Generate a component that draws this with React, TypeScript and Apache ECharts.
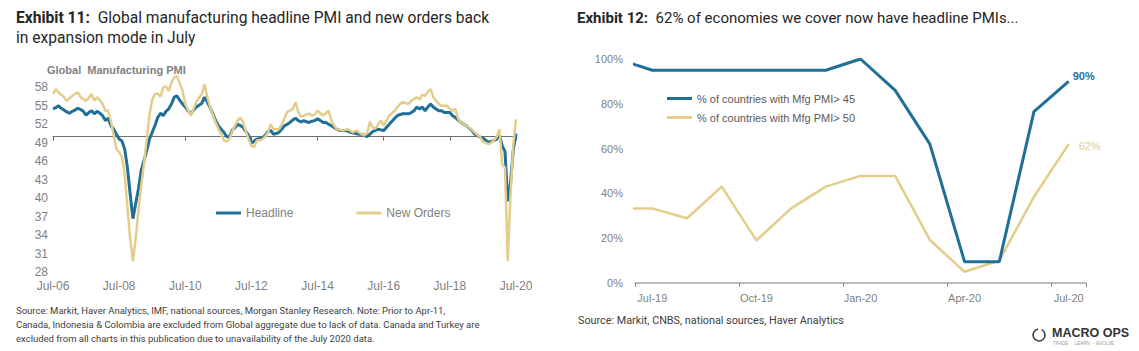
import React, { useEffect, useRef } from 'react';
import * as echarts from 'echarts';

const MONTHS = ['Jan', 'Feb', 'Mar', 'Apr', 'May', 'Jun', 'Jul', 'Aug', 'Sep', 'Oct', 'Nov', 'Dec'];

// Left chart categories: Jul-06 .. Jul-20 (monthly)
const leftCategories: string[] = [];
for (let i = 0; i <= 168; i++) {
  const mi = (6 + i) % 12;
  const yr = 2006 + Math.floor((6 + i) / 12);
  leftCategories.push(MONTHS[mi] + '-' + String(yr).slice(2));
}

const headline = [
  54.5, 54.7, 55.0, 54.6, 54.3, 54.0, 53.8, 54.1, 54.3, 54.6, 54.4, 54.1,
  53.5, 53.9, 54.2, 53.7, 54.1, 53.8, 53.4, 52.6, 53.0, 51.8, 51.2, 50.4,
  49.6, 49.3, 48.0, 45.0, 40.7, 36.7, 39.1, 41.5, 44.5, 46.1, 47.7, 49.6,
  50.7, 51.8, 53.1, 53.8, 53.4, 54.1, 54.5, 55.3, 56.4, 56.6, 55.9, 55.3,
  54.8, 54.2, 53.7, 54.3, 54.8, 55.1, 55.4, 56.4, 55.6, 54.7, 53.7, 52.6,
  51.8, 51.2, 50.7, 50.0, 49.9, 51.0, 51.5, 52.0, 51.8, 51.5, 50.8, 50.2,
  48.9, 49.3, 49.6, 49.7, 49.8, 50.2, 50.8, 51.0, 50.4, 50.5, 50.7, 51.2,
  51.8, 52.0, 52.3, 52.7, 53.0, 52.6, 52.4, 52.6, 52.4, 52.3, 52.5, 52.6,
  52.9, 52.6, 52.3, 52.3, 52.0, 51.8, 51.5, 51.2, 51.0, 51.0, 51.0, 50.9,
  50.7, 50.6, 50.5, 50.4, 50.4, 50.2, 50.0, 50.4, 50.8, 51.0, 51.2, 51.1,
  51.0, 51.5, 52.0, 52.5, 53.0, 53.4, 53.6, 53.7, 53.7, 53.7, 53.9, 54.2,
  54.8, 54.5, 54.8, 54.2, 54.8, 55.3, 54.8, 54.5, 54.2, 54.2, 53.9, 53.9,
  53.9, 53.4, 53.1, 52.7, 52.3, 52.0, 51.8, 51.4, 51.0, 50.4, 50.2, 49.9,
  49.8, 49.4, 49.1, 49.2, 49.4, 49.6, 50.3, 48.5, 47.6, 39.5, 42.4, 47.8,
  50.5,
];

const newOrders = [
  56.9, 57.7, 57.2, 56.8, 56.4, 55.8, 56.2, 56.6, 56.9, 57.2, 56.4, 56.1,
  55.8, 56.3, 56.9, 55.8, 56.4, 55.9, 55.3, 54.2, 54.2, 52.5, 50.3, 48.0,
  47.5, 46.7, 44.0, 38.5, 33.5, 29.8, 33.5, 38.0, 42.0, 45.5, 49.5, 53.5,
  56.0, 56.9, 57.0, 56.5, 58.0, 58.2, 57.4, 58.8, 59.6, 59.8, 58.6, 57.5,
  55.3, 54.3, 53.4, 54.5, 55.6, 56.3, 56.9, 58.5, 56.4, 54.8, 53.5, 52.3,
  51.3, 50.4, 49.4, 49.2, 49.6, 50.8, 51.8, 52.6, 53.1, 52.3, 50.8, 49.6,
  48.5, 48.3, 49.4, 49.4, 49.6, 50.0, 50.7, 52.0, 51.2, 51.2, 51.2, 52.0,
  53.0, 54.0, 54.2, 54.5, 55.6, 54.0, 53.2, 53.4, 53.6, 53.7, 53.4, 53.6,
  54.2, 53.8, 53.4, 53.8, 54.2, 52.6, 51.8, 51.2, 51.1, 51.0, 51.1, 51.2,
  50.9, 50.7, 51.0, 50.7, 50.4, 50.2, 50.6, 52.4, 51.5, 51.3, 52.0, 52.6,
  51.8, 52.6, 53.4, 53.8, 54.2, 54.8, 55.3, 55.6, 55.4, 55.3, 55.8, 56.1,
  56.4, 56.0, 56.8, 56.6, 57.3, 57.7, 56.4, 55.8, 55.3, 55.0, 55.0, 55.0,
  54.5, 54.2, 54.5, 52.9, 52.3, 52.0, 51.8, 51.5, 51.1, 50.7, 50.3, 49.9,
  49.2, 49.0, 48.8, 49.0, 49.4, 50.0, 51.2, 45.5, 45.0, 29.8, 40.5, 48.6,
  52.8,
];

const leftYTicks = [28, 31, 34, 37, 40, 43, 46, 49, 52, 55, 58];

// Right chart
const rightMonths = ['Jun-19', 'Jul-19', 'Aug-19', 'Sep-19', 'Oct-19', 'Nov-19', 'Dec-19', 'Jan-20', 'Feb-20', 'Mar-20', 'Apr-20', 'May-20', 'Jun-20', 'Jul-20'];
const rightCategories = rightMonths.slice(1);
const pmiAbove45 = [100, 95, 95, 95, 95, 95, 95, 100, 86, 62, 9.5, 9.5, 76.5, 90];
const pmiAbove50 = [33.3, 33.3, 28.9, 43, 19, 33.3, 43, 47.8, 47.8, 19.2, 5, 10, 38.5, 62];

const BLUE = '#1f6f97';
const GOLD = '#e4cc8b';
const AXIS_FONT = '"Liberation Sans", Arial, sans-serif';
const TITLE_FONT = 'Roboto, "Noto Sans", sans-serif';

export default function App() {
  const ref = useRef<HTMLDivElement>(null);

  useEffect(() => {
    if (!ref.current) return;
    const chart = echarts.init(ref.current, undefined, { renderer: 'svg' });

    const gLeft = { left: 53, top: 68.8, width: 463, height: 203.5 };
    const gRight = { left: 635, top: 59, width: 451, height: 224 };
    const line50Offset = -(gLeft.height * (50 - 28)) / (61 - 28);

    const rightSeriesData = (vals: number[]) => vals.map((v, i) => [i - 1, v]);

    const option: any = {
      animation: false,
      backgroundColor: '#ffffff',
      grid: [
        { ...gLeft, containLabel: false },
        { ...gRight, containLabel: false },
      ],
      legend: [
        {
          data: ['Headline', 'New Orders'],
          left: 216,
          top: 207,
          padding: 0,
          itemWidth: 25,
          itemHeight: 3,
          itemGap: 63,
          icon: 'rect',
          textStyle: { color: '#7f7f7f', fontSize: 12, fontFamily: AXIS_FONT },
        },
        {
          data: ['% of countries with Mfg PMI> 45', '% of countries with Mfg PMI> 50'],
          orient: 'vertical',
          left: 667,
          top: 93,
          padding: 0,
          itemWidth: 25,
          itemHeight: 3,
          itemGap: 8,
          icon: 'rect',
          textStyle: { color: '#595959', fontSize: 11, fontFamily: AXIS_FONT },
        },
      ],
      xAxis: [
        {
          type: 'category',
          gridIndex: 0,
          data: leftCategories,
          boundaryGap: false,
          axisLine: { show: false },
          axisTick: { show: false },
          axisLabel: { interval: 23, color: '#7f7f7f', fontSize: 12, fontFamily: AXIS_FONT, margin: 8 },
          splitLine: { show: false },
        },
        {
          type: 'category',
          gridIndex: 0,
          data: leftCategories,
          boundaryGap: false,
          position: 'bottom',
          offset: line50Offset,
          axisLine: { show: true, lineStyle: { color: '#6e6e6e', width: 1 } },
          axisTick: { show: true, interval: 23, length: 4, lineStyle: { color: '#6e6e6e' } },
          axisLabel: { show: false },
          splitLine: { show: false },
          z: 1,
        },
        {
          type: 'category',
          gridIndex: 1,
          data: rightCategories,
          boundaryGap: true,
          axisLine: { show: true, lineStyle: { color: '#a6a6a6', width: 1.5 } },
          axisTick: { show: true, interval: 2, length: 4, lineStyle: { color: '#8c8c8c' } },
          axisLabel: { interval: 2, color: '#7f7f7f', fontSize: 11, fontFamily: AXIS_FONT, margin: 9 },
          splitLine: { show: false },
        },
        {
          type: 'value',
          gridIndex: 1,
          min: -0.5,
          max: 12.5,
          show: false,
          splitLine: { show: false },
        },
      ],
      yAxis: [
        {
          type: 'value',
          gridIndex: 0,
          min: 28,
          max: 61,
          interval: 3,
          axisLine: { show: false },
          axisTick: { show: false },
          splitLine: { show: false },
          axisLabel: {
            color: '#7f7f7f',
            fontSize: 12,
            fontFamily: AXIS_FONT,
            margin: 5,
            formatter: (v: number) => (leftYTicks.indexOf(v) >= 0 ? String(v) : ''),
          },
        },
        {
          type: 'value',
          gridIndex: 1,
          min: 0,
          max: 100,
          interval: 20,
          axisLine: { show: false },
          axisTick: { show: false },
          splitLine: { show: false },
          axisLabel: { color: '#7f7f7f', fontSize: 11, fontFamily: AXIS_FONT, margin: 12, formatter: '{value}%' },
        },
      ],
      series: [
        {
          name: 'Headline',
          type: 'line',
          xAxisIndex: 0,
          yAxisIndex: 0,
          data: headline,
          showSymbol: false,
          symbol: 'none',
          color: BLUE,
          lineStyle: { color: BLUE, width: 3 },
          z: 3,
        },
        {
          name: 'New Orders',
          type: 'line',
          xAxisIndex: 0,
          yAxisIndex: 0,
          data: newOrders,
          showSymbol: false,
          symbol: 'none',
          color: GOLD,
          lineStyle: { color: GOLD, width: 2.5 },
          z: 4,
        },
        {
          name: '% of countries with Mfg PMI> 45',
          type: 'line',
          xAxisIndex: 3,
          yAxisIndex: 1,
          data: rightSeriesData(pmiAbove45),
          symbol: 'none',
          color: BLUE,
          lineStyle: { color: BLUE, width: 3 },
          endLabel: {
            show: true,
            formatter: pmiAbove45[pmiAbove45.length - 1] + '%',
            distance: 4,
            offset: [0, -5],
            color: BLUE,
            fontWeight: 'bold',
            fontSize: 11,
            fontFamily: AXIS_FONT,
          },
          z: 3,
        },
        {
          name: '% of countries with Mfg PMI> 50',
          type: 'line',
          xAxisIndex: 3,
          yAxisIndex: 1,
          data: rightSeriesData(pmiAbove50),
          symbol: 'none',
          color: GOLD,
          lineStyle: { color: GOLD, width: 2.5 },
          endLabel: {
            show: true,
            formatter: pmiAbove50[pmiAbove50.length - 1] + '%',
            distance: 10,
            offset: [0, 2],
            color: GOLD,
            fontSize: 11,
            fontFamily: AXIS_FONT,
          },
          z: 2,
        },
      ],
      graphic: [
        {
          type: 'text',
          left: 16,
          top: 8,
          style: {
            text: '{b|Exhibit 11:}  Global manufacturing headline PMI and new orders back\nin expansion mode in July',
            fill: '#262626',
            fontSize: 15.6,
            fontFamily: TITLE_FONT,
            lineHeight: 20,
            rich: { b: { fontWeight: 'bold', fontSize: 15.6, fontFamily: TITLE_FONT, fill: '#262626' } },
          },
        },
        {
          type: 'text',
          left: 577,
          top: 8,
          style: {
            text: '{b|Exhibit 12:}  62% of economies we cover now have headline PMIs...',
            fill: '#262626',
            fontSize: 15,
            fontFamily: TITLE_FONT,
            lineHeight: 20,
            rich: { b: { fontWeight: 'bold', fontSize: 15, fontFamily: TITLE_FONT, fill: '#262626' } },
          },
        },
        {
          type: 'text',
          left: 47,
          top: 64,
          style: {
            text: 'Global  Manufacturing PMI',
            fill: '#7f7f7f',
            fontSize: 11,
            fontWeight: 'bold',
            fontFamily: AXIS_FONT,
          },
        },
        {
          type: 'text',
          left: 16,
          top: 303,
          style: {
            text:
              'Source: Markit, Haver Analytics, IMF, national sources, Morgan Stanley Research. Note: Prior to Apr-11,\n' +
              'Canada, Indonesia & Colombia are excluded from Global aggregate due to lack of data. Canada and Turkey are\n' +
              'excluded from all charts in this publication due to unavailability of the July 2020 data.',
            fill: '#404040',
            fontSize: 9.5,
            lineHeight: 14,
            fontFamily: TITLE_FONT,
          },
        },
        {
          type: 'text',
          left: 578,
          top: 315,
          style: {
            text: 'Source: Markit, CNBS, national sources, Haver Analytics',
            fill: '#404040',
            fontSize: 10.8,
            fontFamily: TITLE_FONT,
          },
        },
        {
          type: 'arc',
          shape: { cx: 1039, cy: 335, r: 6, startAngle: -Math.PI * 0.35, endAngle: Math.PI * 1.45 },
          style: { stroke: '#404040', lineWidth: 1.6, fill: 'none' },
        },
        {
          type: 'text',
          left: 1052,
          top: 326,
          style: {
            text: 'MACRO OPS',
            fill: '#333333',
            fontSize: 12.5,
            fontWeight: 'bold',
            fontFamily: AXIS_FONT,
          },
        },
        {
          type: 'text',
          left: 1053,
          top: 341,
          style: {
            text: 'TRADE  ·  LEARN  ·  EVOLVE',
            fill: '#999999',
            fontSize: 4.5,
            fontFamily: AXIS_FONT,
          },
        },
      ],
    };

    chart.setOption(option);
    return () => {
      chart.dispose();
    };
  }, []);

  return (
    <div
      ref={ref}
      style={{ position: 'absolute', left: 0, top: 0, width: 1139, height: 351, background: '#fff' }}
    />
  );
}
